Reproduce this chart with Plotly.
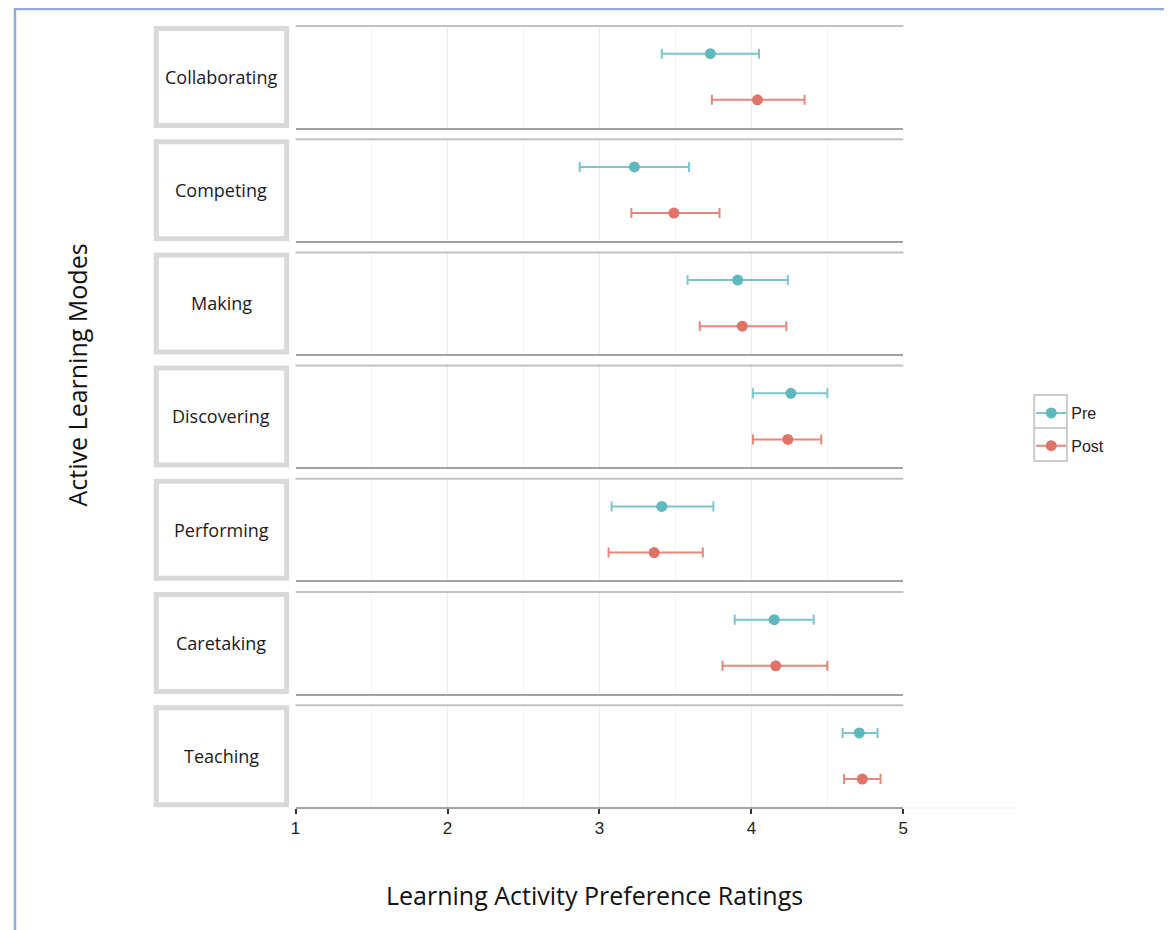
import plotly.graph_objects as go

# ---------------- data ----------------
categories = ["Collaborating", "Competing", "Making", "Discovering",
              "Performing", "Caretaking", "Teaching"]
series = ["Pre", "Post"]
pre_mean = [3.73, 3.23, 3.91, 4.26, 3.41, 4.15, 4.71]
pre_low = [3.41, 2.87, 3.58, 4.01, 3.08, 3.89, 4.60]
pre_high = [4.05, 3.59, 4.24, 4.50, 3.75, 4.41, 4.83]
post_mean = [4.04, 3.49, 3.94, 4.24, 3.36, 4.16, 4.73]
post_low = [3.74, 3.21, 3.66, 4.01, 3.06, 3.81, 4.61]
post_high = [4.35, 3.79, 4.23, 4.46, 3.68, 4.50, 4.85]
x_ticks = [1, 2, 3, 4, 5]

# ---------------- layout helpers ----------------
W, H = 1172, 930
OFF = 8  # page body margin


def px(x):
    return (x - OFF) / W


def py(y):
    return 1 - (y - OFF) / H


X0, X1 = 293, 906
TOP0, PITCH, PH = 26, 113.2, 101.5

marker_col = {"Pre": "#5FB8BE", "Post": "#DE7467"}
line_col = {"Pre": "#7CC6CB", "Post": "#E6877B"}
values = {
    "Pre": (pre_mean, pre_low, pre_high),
    "Post": (post_mean, post_low, post_high),
}

fig = go.Figure()
layout = dict(
    width=W, height=H, autosize=False,
    margin=dict(l=0, r=0, t=0, b=0),
    paper_bgcolor="white", plot_bgcolor="white",
    showlegend=True,
)
shapes = []
annotations = []

for i, cat in enumerate(categories):
    top = TOP0 + i * PITCH
    bot = top + PH
    n = "" if i == 0 else str(i + 1)
    xa, ya = "xaxis" + n, "yaxis" + n
    last = i == len(categories) - 1
    layout[xa] = dict(
        domain=[px(X0), px(X1)], range=[1, 5], anchor="y" + n,
        tickvals=x_ticks, showgrid=True, gridcolor="#ebebeb", gridwidth=1,
        minor=dict(dtick=0.5, showgrid=True, gridcolor="#f4f4f4", gridwidth=1),
        showline=True, mirror=False, linecolor="#a2a2a2", linewidth=2,
        zeroline=False,
        showticklabels=last,
        ticks="outside" if last else "", ticklen=5, tickwidth=2, tickcolor="#333333",
        tickfont=dict(family="Arial", size=17, color="#222222"),
        fixedrange=True,
    )
    if i > 0:
        layout[xa]["matches"] = "x"
    layout[ya] = dict(
        domain=[py(bot), py(top)], range=[0.4, 2.6], anchor="x" + n,
        showgrid=False, showticklabels=False, zeroline=False, showline=False,
        fixedrange=True,
    )
    for s in series:
        m, lo, hi = values[s]
        fig.add_trace(go.Scatter(
            x=[m[i]], y=[2 if s == "Pre" else 1],
            xaxis="x" + n, yaxis="y" + n,
            mode="lines+markers", name=s, legendgroup=s, showlegend=(i == 0),
            marker=dict(size=11, color=marker_col[s]),
            line=dict(color=line_col[s], width=2),
            error_x=dict(type="data", symmetric=False,
                         array=[hi[i] - m[i]], arrayminus=[m[i] - lo[i]],
                         color=line_col[s], thickness=2, width=5),
            hoverinfo="x+name",
        ))
    # lighter top border of the panel
    shapes.append(dict(type="line", xref="paper", yref="paper",
                       x0=px(X0), x1=px(X1), y0=py(top), y1=py(top),
                       line=dict(color="#c2c2c2", width=2)))
    # strip label box
    shapes.append(dict(type="rect", xref="paper", yref="paper",
                       x0=px(152.5), x1=px(284), y0=py(bot - 2), y1=py(top + 2.5),
                       line=dict(color="#d9d9d9", width=5), fillcolor="white",
                       layer="below"))
    annotations.append(dict(x=px(218), y=py((top + bot) / 2), xref="paper", yref="paper",
                            xanchor="center", yanchor="middle",
                            text=cat, showarrow=False,
                            font=dict(family="Open Sans", size=18, color="#1a1a1a")))

# faint continuation of bottom axis
shapes.append(dict(type="line", xref="paper", yref="paper",
                   x0=px(907), x1=px(1020), y0=py(808), y1=py(808),
                   line=dict(color="#f2f2f2", width=1)))
# outer blue frame
shapes.append(dict(type="line", xref="paper", yref="paper",
                   x0=px(9), x1=1, y0=py(9), y1=py(9),
                   line=dict(color="#8FABDC", width=2.5)))
shapes.append(dict(type="line", xref="paper", yref="paper",
                   x0=px(10), x1=px(10), y0=py(9), y1=0,
                   line=dict(color="#8FABDC", width=2.5)))
# legend key boxes
for k in range(2):
    shapes.append(dict(type="rect", xref="paper", yref="paper",
                       x0=px(1038), x1=px(1071), y0=py(395 + 33 * (k + 1)), y1=py(395 + 33 * k),
                       line=dict(color="#cccccc", width=2), fillcolor="rgba(0,0,0,0)"))

annotations.append(dict(x=px(595), y=py(895), xref="paper", yref="paper",
                        xanchor="center", yanchor="middle",
                        text="Learning Activity Preference Ratings", showarrow=False,
                        font=dict(family="Open Sans", size=25, color="#111111")))
annotations.append(dict(x=px(73), y=py(375), xref="paper", yref="paper",
                        xanchor="center", yanchor="middle",
                        text="Active Learning Modes", showarrow=False, textangle=-90,
                        font=dict(family="Open Sans", size=25, color="#111111")))

layout["shapes"] = shapes
layout["annotations"] = annotations
layout["legend"] = dict(
    x=px(1035), y=py(396), xanchor="left", yanchor="top",
    bgcolor="rgba(0,0,0,0)", borderwidth=0,
    font=dict(family="Arial", size=16, color="#222222"),
    traceorder="grouped", tracegroupgap=9, itemwidth=30,
)
fig.update_layout(**layout)
fig.write_html("out.html")
